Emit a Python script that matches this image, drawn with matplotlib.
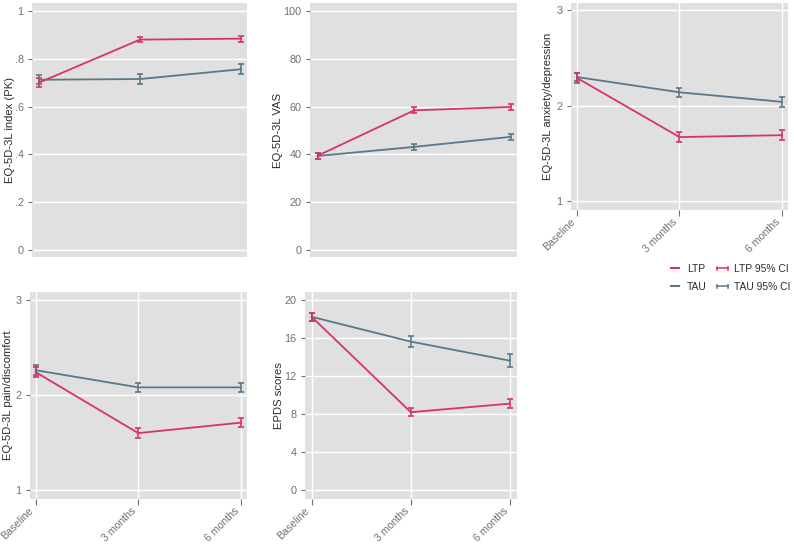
import numpy as np
import matplotlib
matplotlib.use('Agg')
import matplotlib.pyplot as plt
import matplotlib as mpl
from matplotlib.lines import Line2D
from matplotlib.legend_handler import HandlerBase

mpl.rcParams['font.family'] = ['Liberation Sans', 'DejaVu Sans']
mpl.rcParams['font.size'] = 8

# data
timepoints = ['Baseline', '3 months', '6 months']

eq_index_ltp = [0.700, 0.880, 0.884]
eq_index_ltp_ci = [0.020, 0.012, 0.012]
eq_index_tau = [0.712, 0.715, 0.756]
eq_index_tau_ci = [0.018, 0.022, 0.022]

vas_ltp = [39.4, 58.4, 59.8]
vas_ltp_ci = [1.2, 1.3, 1.3]
vas_tau = [39.3, 43.1, 47.3]
vas_tau_ci = [1.2, 1.3, 1.4]

anx_ltp = [2.29, 1.67, 1.69]
anx_ltp_ci = [0.05, 0.05, 0.05]
anx_tau = [2.30, 2.14, 2.04]
anx_tau_ci = [0.04, 0.05, 0.05]

pain_ltp = [2.24, 1.60, 1.71]
pain_ltp_ci = [0.05, 0.05, 0.05]
pain_tau = [2.26, 2.08, 2.08]
pain_tau_ci = [0.05, 0.05, 0.05]

epds_ltp = [18.2, 8.2, 9.1]
epds_ltp_ci = [0.45, 0.45, 0.5]
epds_tau = [18.2, 15.6, 13.6]
epds_tau_ci = [0.4, 0.55, 0.65]

ltp_color = '#d7336a'
tau_color = '#5a7888'
bg_color = '#e0e0e0'
tick_color = '#707070'
label_color = '#2a2a2a'


def fmt_dec(v):
    s = f'{v:g}'
    if s.startswith('0.'):
        s = s[1:]
    return s


panels = [
    dict(pos=[0.0403, 0.5284, 0.2708, 0.466], ltp=eq_index_ltp, ltp_ci=eq_index_ltp_ci,
         tau=eq_index_tau, tau_ci=eq_index_tau_ci, ylabel='EQ-5D-3L index (PK)', labx=-0.08,
         yticks=[0, 0.2, 0.4, 0.6, 0.8, 1], ylim=(-0.03, 1.033), xlim=(-0.07, 2.06), xaxis=False),
    dict(pos=[0.3904, 0.5284, 0.2607, 0.466], ltp=vas_ltp, ltp_ci=vas_ltp_ci,
         tau=vas_tau, tau_ci=vas_tau_ci, ylabel='EQ-5D-3L VAS', labx=-0.13,
         yticks=[0, 20, 40, 60, 80, 100], ylim=(-3, 103.3), xlim=(-0.08, 2.065), xaxis=False),
    dict(pos=[0.7191, 0.6147, 0.2733, 0.3798], ltp=anx_ltp, ltp_ci=anx_ltp_ci,
         tau=anx_tau, tau_ci=anx_tau_ci, ylabel='EQ-5D-3L anxiety/depression', labx=-0.083,
         yticks=[1, 2, 3], ylim=(0.905, 3.077), xlim=(-0.06, 2.06), xaxis=True),
    dict(pos=[0.0378, 0.0844, 0.2733, 0.3798], ltp=pain_ltp, ltp_ci=pain_ltp_ci,
         tau=pain_tau, tau_ci=pain_tau_ci, ylabel='EQ-5D-3L pain/discomfort', labx=-0.078,
         yticks=[1, 2, 3], ylim=(0.909, 3.08), xlim=(-0.055, 2.06), xaxis=True),
    dict(pos=[0.3841, 0.0844, 0.2670, 0.3798], ltp=epds_ltp, ltp_ci=epds_ltp_ci,
         tau=epds_tau, tau_ci=epds_tau_ci, ylabel='EPDS scores', labx=-0.099,
         yticks=[0, 4, 8, 12, 16, 20], ylim=(-0.9, 20.8), xlim=(-0.067, 2.07), xaxis=True),
]

fig = plt.figure(figsize=(7.94, 5.45), dpi=100)
x = np.arange(len(timepoints))

for p in panels:
    ax = fig.add_axes(p['pos'])
    ax.set_facecolor(bg_color)
    for s in ax.spines.values():
        s.set_visible(False)
    ax.set_axisbelow(True)
    ax.grid(axis='y', color='white', linewidth=1.0)
    for vals, ci, col in [(p['tau'], p['tau_ci'], tau_color), (p['ltp'], p['ltp_ci'], ltp_color)]:
        ax.errorbar(x, vals, yerr=ci, color=col, linewidth=1.3, elinewidth=1.2,
                    capsize=2.5, capthick=1.2)
    ax.set_xlim(*p['xlim'])
    ax.set_ylim(*p['ylim'])
    ax.set_yticks(p['yticks'])
    ax.set_yticklabels([fmt_dec(v) for v in p['yticks']])
    ax.tick_params(axis='y', colors=tick_color, length=3, width=0.8, labelsize=7.8, pad=3)
    ax.set_ylabel(p['ylabel'], color=label_color, fontsize=8.1)
    ax.yaxis.set_label_coords(p['labx'], 0.5)
    if p['xaxis']:
        ax.grid(axis='x', color='white', linewidth=1.0)
        ax.set_xticks(x)
        ax.set_xticklabels(timepoints, rotation=45, ha='right')
        ax.tick_params(axis='x', colors=tick_color, length=4, width=0.8, labelsize=7.6, pad=1)
    else:
        ax.set_xticks([])


class HandlerCI(HandlerBase):
    def create_artists(self, legend, orig_handle, xdescent, ydescent, width, height, fontsize, trans):
        col = orig_handle.get_color()
        y = height / 2 - ydescent
        x0, x1 = -xdescent + width * 0.05, -xdescent + width * 0.95
        h = height * 0.22
        arts = [Line2D([x0, x1], [y, y], color=col, lw=1.1),
                Line2D([x0, x0], [y - h, y + h], color=col, lw=1.1),
                Line2D([x1, x1], [y - h, y + h], color=col, lw=1.1)]
        for a in arts:
            a.set_transform(trans)
        return arts


class HandlerShort(HandlerBase):
    def create_artists(self, legend, orig_handle, xdescent, ydescent, width, height, fontsize, trans):
        col = orig_handle.get_color()
        y = height / 2 - ydescent
        x0, x1 = -xdescent + width * 0.15, -xdescent + width * 0.85
        a = Line2D([x0, x1], [y, y], color=col, lw=1.5)
        a.set_transform(trans)
        return [a]


h_ltp = Line2D([], [], color=ltp_color)
h_tau = Line2D([], [], color=tau_color)
h_ltp_ci = Line2D([], [], color=ltp_color)
h_tau_ci = Line2D([], [], color=tau_color)
leg = fig.legend([h_ltp, h_tau, h_ltp_ci, h_tau_ci], ['LTP', 'TAU', 'LTP 95% CI', 'TAU 95% CI'],
                 ncol=2, frameon=False, loc='upper left', bbox_to_anchor=(668.8 / 794, 1 - 264.0 / 545),
                 borderpad=0, borderaxespad=0,
                 handler_map={h_ltp: HandlerShort(), h_tau: HandlerShort(),
                              h_ltp_ci: HandlerCI(), h_tau_ci: HandlerCI()},
                 handlelength=1.2, handletextpad=0.56, columnspacing=0.95, labelspacing=0.78,
                 fontsize=7.4)
for t in leg.get_texts():
    t.set_color(label_color)

fig.savefig('out.png', dpi=100, facecolor='white')
